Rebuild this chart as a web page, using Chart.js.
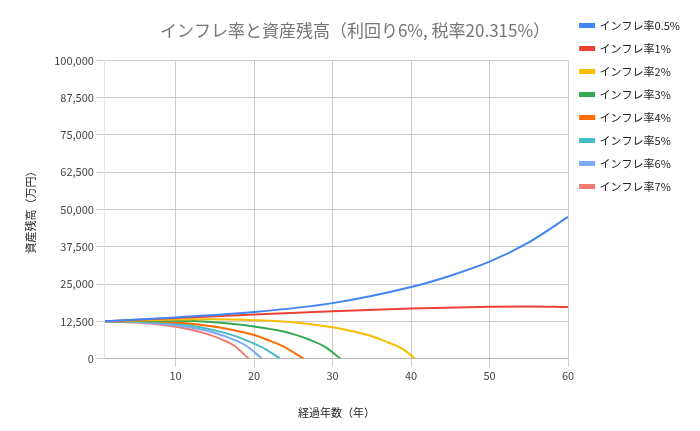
<!DOCTYPE html>
<html><head><meta charset="utf-8">
<script src="https://cdn.jsdelivr.net/npm/chart.js@4"></script>
<style>body{margin:0;background:#fff}#w{width:700px;height:431px}</style>
</head><body><div id="w"><canvas id="c"></canvas></div>
<script>
const labels = ["インフレ率0.5%","インフレ率1%","インフレ率2%","インフレ率3%","インフレ率4%","インフレ率5%","インフレ率6%","インフレ率7%"];
const colors = ["#4285F4","#EA4335","#FBBC04","#34A853","#FF6D01","#46BDC6","#7BAAF7","#F07B72"];
const x05 = [1,10,20,30,40,45,50,55,60];
const y05 = [12500,13800,15600,18600,24000,27800,32500,39000,47500];
const x1 = [1,10,20,30,40,50,55,60];
const y1 = [12500,13600,14800,15900,16800,17400,17500,17300];
const x2 = [1,10,15,20,25,30,33,35,37,39,40.5];
const y2 = [12500,13100,13200,12900,12200,10500,8900,7500,5500,3100,0];
const x3 = [1,10,15,20,23,25,27,29,31];
const y3 = [12500,12700,12200,10800,9500,8200,6400,4000,0];
const x4 = [1,5,10,15,18,20,22,24,26.3];
const y4 = [12500,12600,12100,10700,9200,7900,6000,3700,0];
const x5 = [1,5,10,13,16,18,20,21.5,23.3];
const y5 = [12500,12400,11700,10600,8800,7200,5000,3100,0];
const x6 = [1,5,10,13,15,17,19,21];
const y6 = [12500,12300,11200,9900,8600,6800,4300,0];
const x7 = [1,5,10,12,14,16,17.5,19.3];
const y7 = [12500,12100,10700,9700,8300,6300,4300,0];
const xs=[x05,x1,x2,x3,x4,x5,x6,x7], ys=[y05,y1,y2,y3,y4,y5,y6,y7];
const font="'Noto Sans CJK JP','Noto Sans',sans-serif";
new Chart(document.getElementById('c'),{
 type:'line',
 data:{datasets:labels.map((l,i)=>({label:l,data:xs[i].map((x,j)=>({x,y:ys[i][j]})),borderColor:colors[i],backgroundColor:colors[i],borderWidth:2,pointRadius:0,cubicInterpolationMode:'monotone'}))},
 options:{responsive:true,maintainAspectRatio:false,animation:false,
  layout:{padding:{left:20,right:10,top:8,bottom:8}},
  plugins:{title:{display:true,text:'インフレ率と資産残高（利回り6%, 税率20.315%）',color:'#757575',font:{family:font,size:17,weight:'normal'},padding:{top:12,bottom:20}},
   legend:{position:'right',align:'start',labels:{boxWidth:14,boxHeight:3,padding:12,font:{family:font,size:11},color:'#222'}},tooltip:{enabled:false}},
  scales:{
   x:{type:'linear',min:1,max:60,afterBuildTicks:a=>{a.ticks=[10,20,30,40,50,60].map(v=>({value:v}));},
      ticks:{font:{family:font,size:11},color:'#444'},grid:{color:'#ccc'},
      title:{display:true,text:'経過年数（年）',font:{family:font,size:11},color:'#222',padding:{top:20}}},
   y:{min:0,max:100000,ticks:{stepSize:12500,font:{family:font,size:11},color:'#444',callback:v=>v.toLocaleString('en-US')},grid:{color:'#ccc'},
      title:{display:true,text:'資産残高（万円）',font:{family:font,size:11},color:'#222',padding:{bottom:14}}}
  }}
});
</script></body></html>
